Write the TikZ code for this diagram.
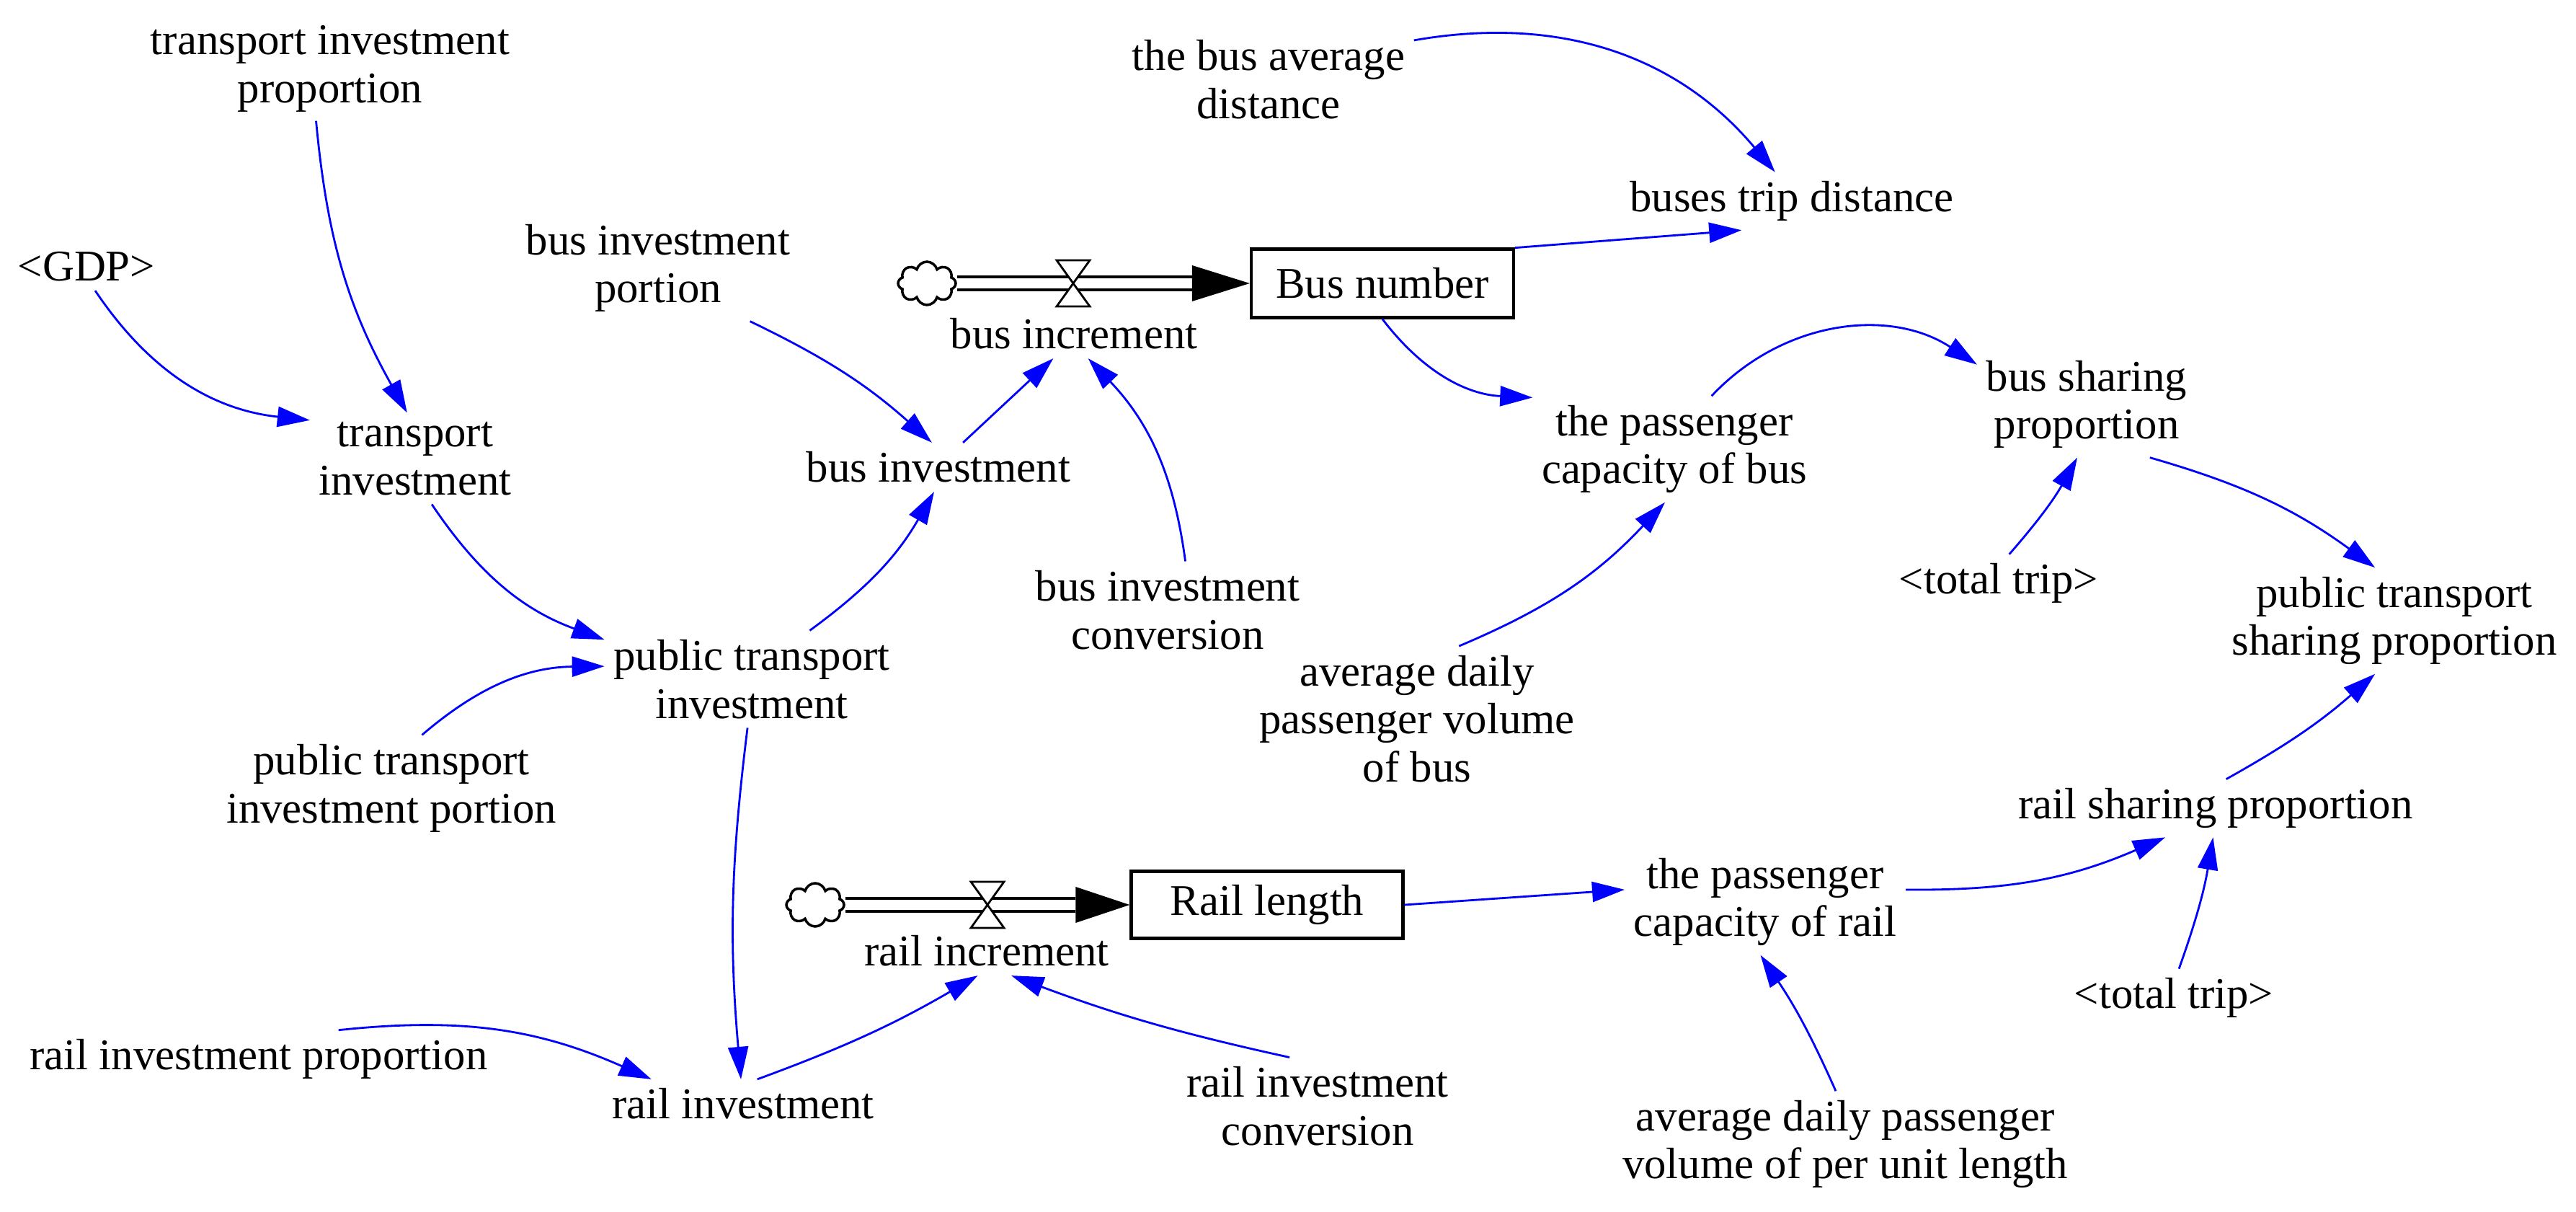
\documentclass[tikz,border=0pt]{standalone}
\usepackage{fontspec}
\setmainfont{Liberation Serif}
\usetikzlibrary{shapes,shapes.symbols,arrows.meta,positioning,calc}
\newcommand{\varfont}{\fontsize{17.3}{19}\selectfont}
\definecolor{LinkCol}{RGB}{0,0,255}
\tikzset{
  var/.style={
    align=center,
    inner sep=.12cm,
    font=\varfont,
    },
  stock/.style={
    draw,
    line width=1.2pt,
    font=\varfont,
    inner sep=0pt,
    },
  source/.style={
    cloud,
    cloud puffs=8,
    cloud ignores aspect,
    draw,
    line width=1pt,
    minimum width=.8cm,
    minimum height=.6cm,
    inner sep=0pt,
    },
  valve/.pic={
    \draw[fill=white,line width=.8pt] (-.23,.32) -- (.23,.32) -- (-.23,-.32) -- (.23,-.32) -- cycle;
    },
}
\tikzstyle{Link} = [-{Triangle[length=.45cm,width=.28cm]},LinkCol,line width=.8pt]
\tikzstyle{Pipe} = [double distance=.14cm,line width=1.1pt]

\begin{document}
\begin{tikzpicture}
\useasboundingbox (0,0) rectangle (35.74,16.8);

    % bus stock and flow
    \node[stock,minimum width=3.64cm,minimum height=.95cm] (busNum) at (19.18,12.87) {Bus number};
    \node[source] (busCloud) at (12.86,12.87) {};
    \coordinate (busTip) at ($(busNum.west)+(-.8,0)$);
    \draw[Pipe] (busCloud.east) -- (busTip);
    \fill (busTip) ++(0,.25) -- (busNum.west) -- ($(busTip)+(0,-.25)$) -- cycle;
    \pic at (14.89,12.87) {valve};
    \node[var] (busInc) at (14.90,12.17) {bus increment};

    % rail stock and flow
    \node[stock,minimum width=3.77cm,minimum height=.93cm] (railLen) at (17.58,4.25) {Rail length};
    \node[source] (railCloud) at (11.31,4.25) {};
    \coordinate (railTip) at ($(railLen.west)+(-.75,0)$);
    \draw[Pipe] (railCloud.east) -- (railTip);
    \fill (railTip) ++(0,.25) -- (railLen.west) -- ($(railTip)+(0,-.25)$) -- cycle;
    \pic at (13.70,4.25) {valve};
    \node[var] (railInc) at (13.69,3.61) {rail increment};

    % variables
    \node[var] (tip) at (4.58,15.85) {transport investment\\proportion};
    \node[var] (gdp) at (1.20,13.10) {<GDP>};
    \node[var] (ti) at (5.76,10.44) {transport\\investment};
    \node[var] (bip) at (9.13,13.08) {bus investment\\portion};
    \node[var] (bi) at (13.02,10.32) {bus investment};
    \node[var] (bic) at (16.20,8.34) {bus investment\\conversion};
    \node[var] (pti) at (10.43,7.38) {public transport\\investment};
    \node[var] (ptip) at (5.43,5.87) {public transport\\investment portion};
    \node[var] (rip) at (3.59,2.11) {rail investment proportion};
    \node[var] (ri) at (10.31,1.49) {rail investment};
    \node[var] (ric) at (18.28,1.46) {rail investment\\conversion};
    \node[var] (bad) at (17.60,15.70) {the bus average\\distance};
    \node[var] (btd) at (24.86,14.01) {buses trip distance};
    \node[var] (pcb) at (23.23,10.57) {the passenger\\capacity of bus};
    \node[var] (bsp) at (28.95,11.19) {bus sharing\\proportion};
    \node[var] (ttA) at (27.73,8.71) {<total trip>};
    \node[var] (ptsp) at (33.22,8.19) {public transport\\sharing proportion};
    \node[var] (adpvb) at (19.66,6.83) {average daily\\passenger volume\\of bus};
    \node[var] (rsp) at (30.74,5.59) {rail sharing proportion};
    \node[var] (pcr) at (24.49,4.29) {the passenger\\capacity of rail};
    \node[var] (ttB) at (30.16,2.96) {<total trip>};
    \node[var] (adpvl) at (25.60,0.93) {average daily passenger\\volume of per unit length};

    % links
    \draw[Link] (gdp.-70) to[bend right=25] (ti.160);
    \draw[Link] (tip.-105) to[bend right=12] (ti.100);
    \draw[Link] (ti.-70) to[bend right=18] (pti.165);
    \draw[Link] (ptip.60) to[bend left=20] (pti.175);
    \draw[Link] (bip.-30) to[bend left=8] (bi.105);
    \draw[Link] (bi.45) to (busInc.-130);
    \draw[Link] (bic.70) to[bend right=18] (busInc.-60);
    \draw[Link] (pti.40) to[bend right=12] (bi.-100);
    \draw[Link] (pti.-95) to[bend right=6] (ri.95);
    \draw[Link] (rip.20) to[bend left=15] (ri.165);
    \draw[Link] (ri.60) to[bend right=5] (railInc.-110);
    \draw[Link] (ric.120) to[bend left=4] (railInc.-45);
    \draw[Link] (bad.15) to[bend left=30] (btd.120);
    \draw[Link] (busNum.15) to (btd.-150);
    \draw[Link] (busNum.south) to[bend right=25] (pcb.160);
    \draw[Link] (pcb.55) to[bend left=40] (bsp.160);
    \draw[Link] (adpvb.60) to[bend right=12] (pcb.-100);
    \draw[Link] (ttA.70) to[bend right=6] (bsp.-100);
    \draw[Link] (bsp.-40) to[bend left=10] (ptsp.110);
    \draw[Link] (railLen.east) to (pcr.175);
    \draw[Link] (pcr.5) to[bend right=12] (rsp.-150);
    \draw[Link] (ttB.80) to[bend right=5] (rsp.-95);
    \draw[Link] (rsp.70) to[bend right=6] (ptsp.-110);
    \draw[Link] (adpvl.100) to[bend right=5] (pcr.-95);

\end{tikzpicture}
\end{document}
